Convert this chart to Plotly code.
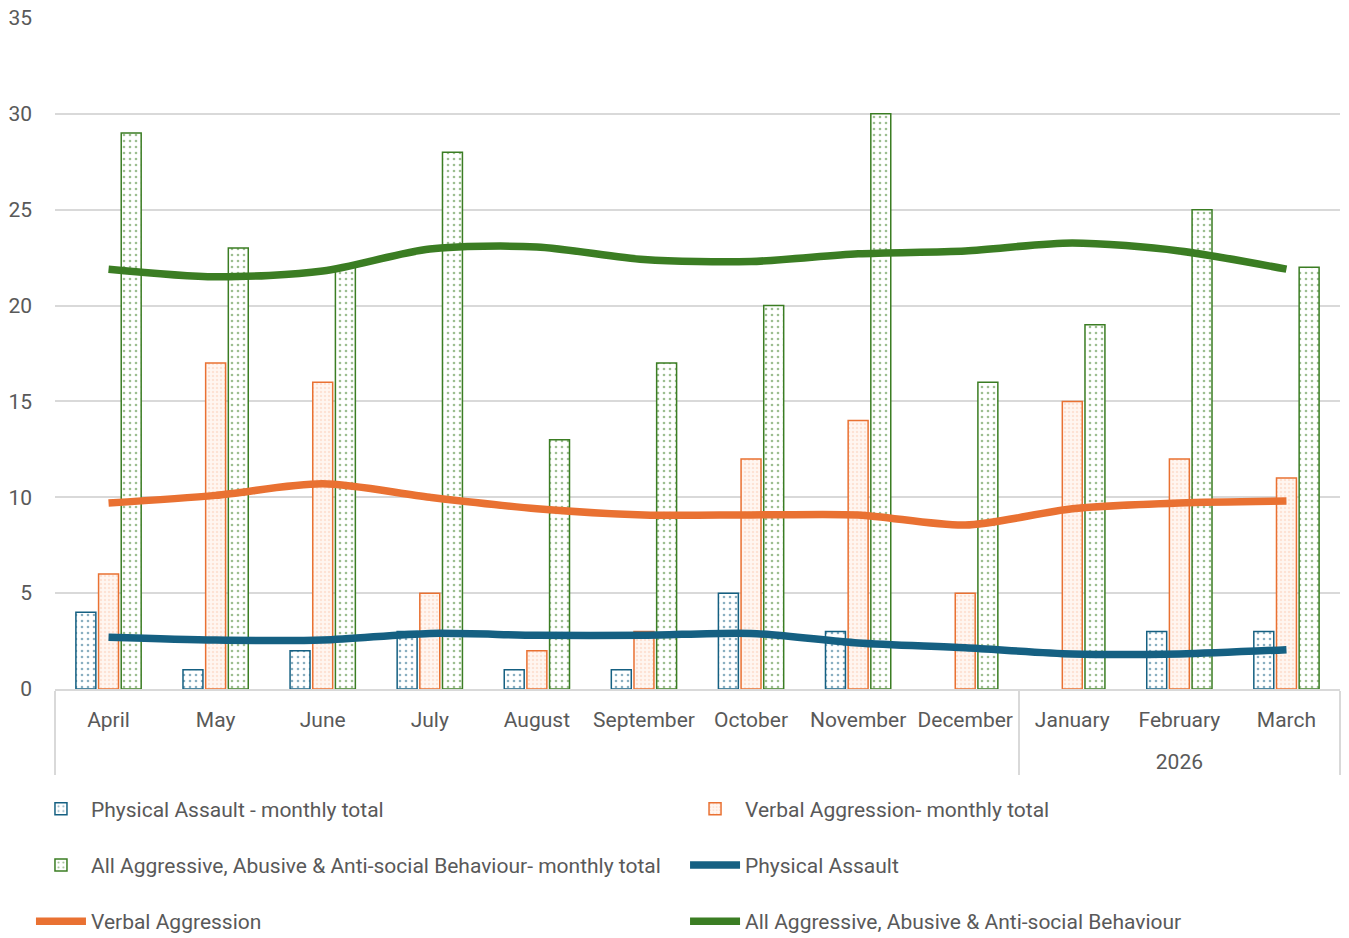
import plotly.graph_objects as go

months = ["April", "May", "June", "July", "August", "September", "October",
          "November", "December", "January", "February", "March"]
years = ["", "", "", "", "", "", "", "", "", "<br>2026", "<br>2026", "<br>2026"]

physical_total = [4, 1, 2, 3, 1, 1, 5, 3, 0, 0, 3, 3]
verbal_total = [6, 17, 16, 5, 2, 3, 12, 14, 5, 15, 12, 11]
all_total = [29, 23, 22, 28, 13, 17, 20, 30, 16, 19, 25, 22]

physical_avg = [2.7, 2.55, 2.55, 2.9, 2.8, 2.8, 2.9, 2.4, 2.15, 1.83, 1.83, 2.05]
verbal_avg = [9.7, 10.1, 10.7, 10.0, 9.4, 9.08, 9.08, 9.08, 8.55, 9.4, 9.7, 9.8]
all_avg = [21.9, 21.5, 21.8, 22.95, 23.06, 22.4, 22.3, 22.7, 22.85, 23.27, 22.85, 21.9]

names = ["Physical Assault - monthly total", "Verbal Aggression- monthly total",
         "All Aggressive, Abusive & Anti-social Behaviour- monthly total",
         "Physical Assault", "Verbal Aggression",
         "All Aggressive, Abusive & Anti-social Behaviour"]

BLUE = "#156082"
ORANGE = "#E97132"
GREEN = "#3B7D23"

x = [years, months]
FONT = "Roboto, Open Sans, sans-serif"
GREY = "#595959"


def outline(vals):
    return [1.5 if v > 0 else 0 for v in vals]


fig = go.Figure()
fig.add_trace(go.Bar(x=x, y=physical_total, name=names[0], legend="legend", legendgroup="a",
                     marker=dict(color="white", line=dict(color=BLUE, width=outline(physical_total)),
                                 pattern=dict(shape=".", fgcolor=BLUE, bgcolor="white",
                                              size=6, solidity=0.15, fillmode="overlay"))))
fig.add_trace(go.Bar(x=x, y=verbal_total, name=names[1], legend="legend2", legendgroup="b",
                     marker=dict(color="#FDEBE2", line=dict(color=ORANGE, width=outline(verbal_total)),
                                 pattern=dict(shape=".", fgcolor="#F9CDB6", bgcolor="#FFF6F1",
                                              size=4, solidity=0.3, fillmode="overlay"))))
fig.add_trace(go.Bar(x=x, y=all_total, name=names[2], legend="legend", legendgroup="c",
                     marker=dict(color="white", line=dict(color=GREEN, width=outline(all_total)),
                                 pattern=dict(shape=".", fgcolor=GREEN, bgcolor="white",
                                              size=6, solidity=0.15, fillmode="overlay"))))
fig.add_trace(go.Scatter(x=x, y=physical_avg, name=names[3], legend="legend2", legendgroup="d",
                         mode="lines",
                         line=dict(color=BLUE, width=7.5, shape="spline", smoothing=0.8)))
fig.add_trace(go.Scatter(x=x, y=verbal_avg, name=names[4], legend="legend", legendgroup="e",
                         mode="lines",
                         line=dict(color=ORANGE, width=7.5, shape="spline", smoothing=0.8)))
fig.add_trace(go.Scatter(x=x, y=all_avg, name=names[5], legend="legend2", legendgroup="f",
                         mode="lines",
                         line=dict(color=GREEN, width=7.5, shape="spline", smoothing=0.8)))

leg_common = dict(orientation="v", xanchor="left", yanchor="top", y=-0.1483,
                  font=dict(family=FONT, size=21, color=GREY),
                  bgcolor="rgba(0,0,0,0)", itemwidth=50, traceorder="grouped",
                  tracegroupgap=26)

fig.update_layout(
    width=1349, height=938,
    margin=dict(l=55, r=9, t=18, b=249, autoexpand=False),
    paper_bgcolor="white", plot_bgcolor="white",
    barmode="group", bargap=0.365, bargroupgap=0.12,
    font=dict(family=FONT, size=21, color=GREY),
    legend=dict(x=-0.0187, **leg_common),
    legend2=dict(x=0.4903, **leg_common),
    xaxis=dict(type="multicategory", showline=True, linecolor="#D9D9D9", linewidth=1.5,
               showdividers=True, dividercolor="#D9D9D9", dividerwidth=1.5,
               ticks="", tickangle=0, tickfont=dict(family=FONT, size=21, color=GREY),
               ticklabelstandoff=11, showgrid=False),
    yaxis=dict(range=[0, 35], dtick=5, showgrid=True, gridcolor="#D9D9D9", gridwidth=1.5,
               zeroline=False, showline=False, ticks="",
               tickfont=dict(family=FONT, size=21, color=GREY), ticklabelstandoff=22),
)

fig.write_html("out.html")
